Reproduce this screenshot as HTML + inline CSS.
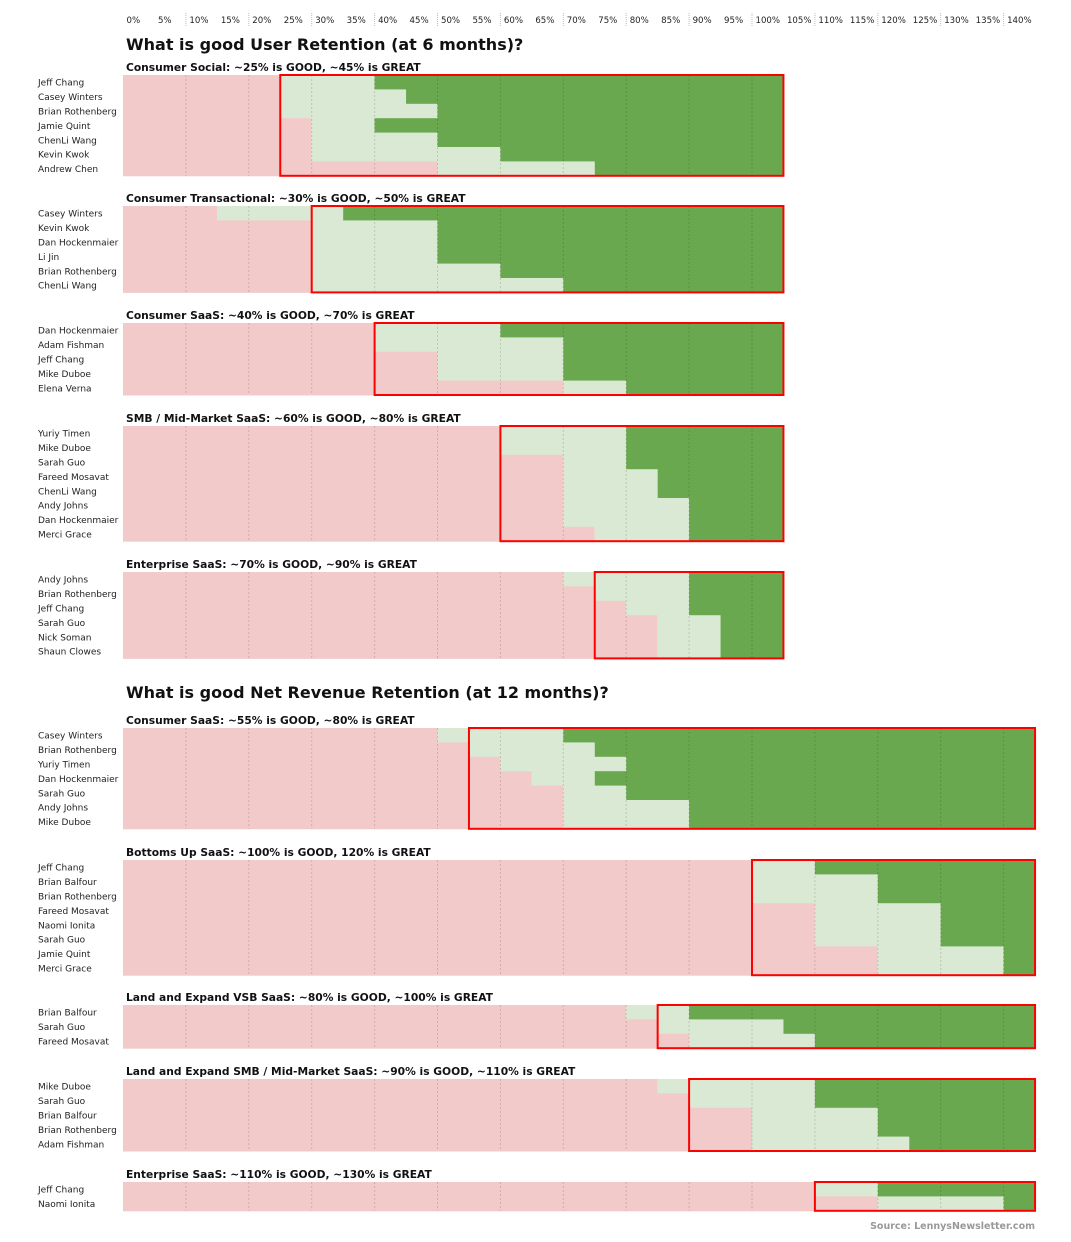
<!DOCTYPE html>
<html><head><meta charset="utf-8">
<style>
html,body{margin:0;padding:0;background:#fff;}
svg{display:block;font-family:"DejaVu Sans","Liberation Sans",sans-serif;}
</style></head>
<body>
<svg id="chart" width="1071" height="1242" viewBox="0 0 1071 1242" xmlns="http://www.w3.org/2000/svg"></svg>
<script>
// ---- data ----
const tickValues = [0,5,10,15,20,25,30,35,40,45,50,55,60,65,70,75,80,85,90,95,100,105,110,115,120,125,130,135,140];
const tickLabels = tickValues.map(v => v + '%');
const chartTitles = ['What is good User Retention (at 6 months)?', 'What is good Net Revenue Retention (at 12 months)?'];

const sectionTitles = [
 'Consumer Social: ~25% is GOOD, ~45% is GREAT',
 'Consumer Transactional: ~30% is GOOD, ~50% is GREAT',
 'Consumer SaaS: ~40% is GOOD, ~70% is GREAT',
 'SMB / Mid-Market SaaS: ~60% is GOOD, ~80% is GREAT',
 'Enterprise SaaS: ~70% is GOOD, ~90% is GREAT',
 'Consumer SaaS: ~55% is GOOD, ~80% is GREAT',
 'Bottoms Up SaaS: ~100% is GOOD, 120% is GREAT',
 'Land and Expand VSB SaaS: ~80% is GOOD, ~100% is GREAT',
 'Land and Expand SMB / Mid-Market SaaS: ~90% is GOOD, ~110% is GREAT',
 'Enterprise SaaS: ~110% is GOOD, ~130% is GREAT'
];
const sectionMax = [105,105,105,105,105,145,145,145,145,145];
const boxStart = [25,30,40,60,75,55,100,85,90,110];

const names0 = ['Jeff Chang','Casey Winters','Brian Rothenberg','Jamie Quint','ChenLi Wang','Kevin Kwok','Andrew Chen'];
const good0 = [25,25,25,30,30,30,50];
const great0 = [40,45,50,40,50,60,75];

const names1 = ['Casey Winters','Kevin Kwok','Dan Hockenmaier','Li Jin','Brian Rothenberg','ChenLi Wang'];
const good1 = [15,30,30,30,30,30];
const great1 = [35,50,50,50,60,70];

const names2 = ['Dan Hockenmaier','Adam Fishman','Jeff Chang','Mike Duboe','Elena Verna'];
const good2 = [40,40,50,50,70];
const great2 = [60,70,70,70,80];

const names3 = ['Yuriy Timen','Mike Duboe','Sarah Guo','Fareed Mosavat','ChenLi Wang','Andy Johns','Dan Hockenmaier','Merci Grace'];
const good3 = [60,60,70,70,70,70,70,75];
const great3 = [80,80,80,85,85,90,90,90];

const names4 = ['Andy Johns','Brian Rothenberg','Jeff Chang','Sarah Guo','Nick Soman','Shaun Clowes'];
const good4 = [70,75,80,85,85,85];
const great4 = [90,90,90,95,95,95];

const names5 = ['Casey Winters','Brian Rothenberg','Yuriy Timen','Dan Hockenmaier','Sarah Guo','Andy Johns','Mike Duboe'];
const good5 = [50,55,60,65,70,70,70];
const great5 = [70,75,80,75,80,90,90];

const names6 = ['Jeff Chang','Brian Balfour','Brian Rothenberg','Fareed Mosavat','Naomi Ionita','Sarah Guo','Jamie Quint','Merci Grace'];
const good6 = [100,100,100,110,110,110,120,120];
const great6 = [110,120,120,130,130,130,140,140];

const names7 = ['Brian Balfour','Sarah Guo','Fareed Mosavat'];
const good7 = [80,85,90];
const great7 = [90,105,110];

const names8 = ['Mike Duboe','Sarah Guo','Brian Balfour','Brian Rothenberg','Adam Fishman'];
const good8 = [85,90,100,100,100];
const great8 = [110,110,120,120,125];

const names9 = ['Jeff Chang','Naomi Ionita'];
const good9 = [110,120];
const great9 = [120,140];

const allNames = [names0,names1,names2,names3,names4,names5,names6,names7,names8,names9];
const allGood = [good0,good1,good2,good3,good4,good5,good6,good7,good8,good9];
const allGreat = [great0,great1,great2,great3,great4,great5,great6,great7,great8,great9];

// ---- layout ----
const X0 = 123, PX = 6.29;
function x(v){ return X0 + v*PX; }
const ROWH = 14.4;
const sectionTop = [75,206,323,426,572,728,860,1005,1079,1182];
const titleY = [50,698];

const NS = 'http://www.w3.org/2000/svg';
const svg = document.getElementById('chart');
function mk(tag, attrs, parent){
  const e = document.createElementNS(NS, tag);
  for (const k in attrs) e.setAttribute(k, attrs[k]);
  (parent||svg).appendChild(e);
  return e;
}

const axis = mk('g', {});


tickValues.forEach((v,i) => {
  if (v % 10 === 0 && v > 0) {
    const l = mk('line', {x1:x(v), x2:x(v), y1:13, y2:26, stroke:'#bbb', 'stroke-width':1, 'stroke-dasharray':'1,1'}, axis);
    
    
  }
  const t = mk('text', {x:x(v)+3.5, y:23, 'font-size':8.6, fill:'#222'}, axis);
  t.textContent = tickLabels[i];
  
  
});

chartTitles.forEach((s,i) => {
  const t = mk('text', {x:126, y:titleY[i], 'font-size':16, 'font-weight':'bold', fill:'#111'});
  t.textContent = s;
  
  
});

const src = mk('text', {x:1035, y:1229, 'font-size':9.5, 'font-weight':'bold', fill:'#999', 'text-anchor':'end'});
src.textContent = 'Source: LennysNewsletter.com';



allNames.forEach((names, s) => {
  const g = mk('g', {});
  
  
  const top = sectionTop[s];
  const h = names.length * ROWH;
  const maxV = sectionMax[s];
  const st = mk('text', {x:126, y:top-4, 'font-size':10.7, 'font-weight':'bold', fill:'#111'}, g);
  st.textContent = sectionTitles[s];
  
  
  names.forEach((n, r) => {
    const y = top + r*ROWH;
    const gd = allGood[s][r], gr = allGreat[s][r];
    const a = mk('rect', {x:x(0), y:y, width:x(gd)-x(0), height:ROWH+0.5, fill:'#f3caca'}, g);
    
    
    const b = mk('rect', {x:x(gd), y:y, width:x(gr)-x(gd), height:ROWH+0.5, fill:'#d9e9d3'}, g);
    
    
    const c = mk('rect', {x:x(gr), y:y, width:x(maxV)-x(gr), height:ROWH+0.5, fill:'#6aa84f'}, g);
    
    
    const lab = mk('text', {x:38, y:y+ROWH/2+3.5, 'font-size':9, fill:'#222'}, g);
    lab.textContent = n;
    
    
  });
  for (let v = 10; v < maxV; v += 10) {
    const l = mk('line', {x1:x(v), x2:x(v), y1:top, y2:top+h, stroke:'#000', 'stroke-opacity':0.15, 'stroke-width':1, 'stroke-dasharray':'2,2'}, g);
    
    
  }
  const bx = mk('rect', {x:x(boxStart[s]), y:top, width:x(maxV)-x(boxStart[s]), height:h, fill:'none', stroke:'#f00', 'stroke-width':2}, g);
  
  
});
</script>
</body></html>
